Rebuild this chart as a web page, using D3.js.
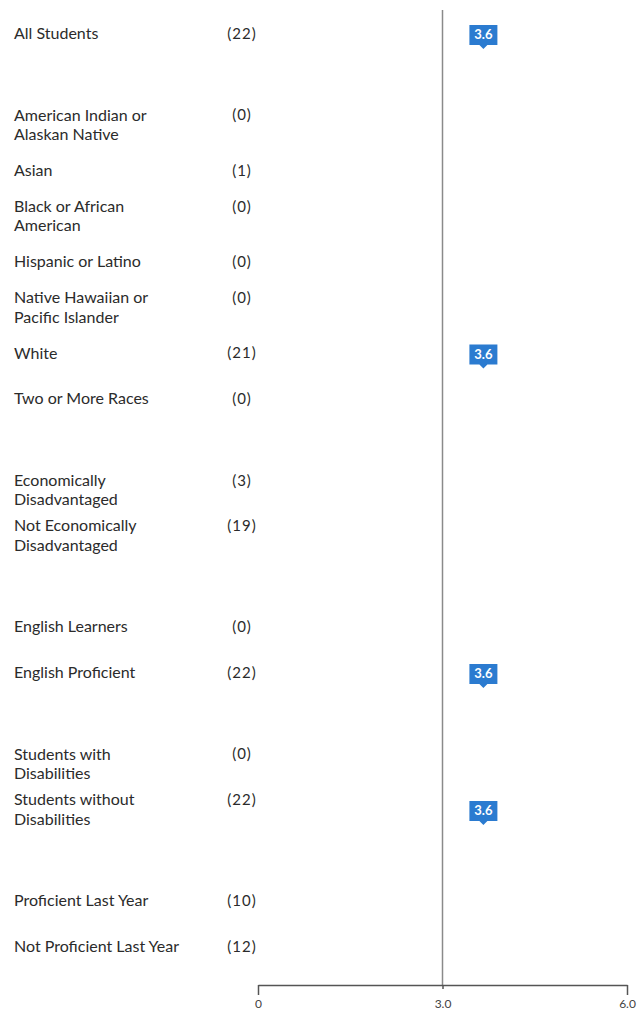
<!DOCTYPE html>
<html>
<head>
<meta charset="utf-8">
<script src="https://cdn.jsdelivr.net/npm/d3@7"></script>
<style>
  body { margin: 0; background: #fff; }
  svg { display: block; }
</style>
</head>
<body>
<svg id="chart" width="640" height="1012"></svg>
<script>
// groups by section, with student counts and mean scores (null = not shown)
var sections = [
  ["All Students"],
  ["American Indian or\nAlaskan Native", "Asian", "Black or African\nAmerican", "Hispanic or Latino",
   "Native Hawaiian or\nPacific Islander", "White", "Two or More Races"],
  ["Economically\nDisadvantaged", "Not Economically\nDisadvantaged"],
  ["English Learners", "English Proficient"],
  ["Students with\nDisabilities", "Students without\nDisabilities"],
  ["Proficient Last Year", "Not Proficient Last Year"]
];
var counts = [22, 0, 1, 0, 0, 0, 21, 0, 3, 19, 0, 22, 0, 22, 10, 12];
var scores = [3.6, null, null, null, null, null, 3.6, null, null, null, null, 3.6, null, 3.6, null, null];
var ticks = [0, 3.0, 6.0];
var refValue = 3.0;

var svg = d3.select("svg#chart");

// flatten groups, with a blank spacer slot between sections
var groups = [];
var domain = [];
sections.forEach(function(s, i) {
  if (i > 0) domain.push("gap" + i);
  s.forEach(function(g) { groups.push(g); domain.push(g); });
});

var rows = groups.map(function(g, i) {
  return { name: g, lines: g.split("\n"), n: counts[i], v: scores[i] };
});

var y = d3.scalePoint().domain(domain).range([35, 948]);
var x = d3.scaleLinear().domain([0, 6]).range([258, 627]);

var lineH = 19.5;
function firstLine(d) { return y(d.name) - (d.lines.length - 1) * lineH / 2; }

// group labels
var label = svg.selectAll("text.groupLabel")
  .data(rows)
  .enter().append("text")
  .attr("class", "groupLabel")
  .attr("x", 14)
  .attr("y", firstLine)
  .attr("dominant-baseline", "middle")
  .attr("font-family", "Lato, 'Open Sans', sans-serif")
  .attr("font-size", 16)
  .attr("fill", "#2b2b2b");

label.selectAll("tspan")
  .data(d => d.lines)
  .enter().append("tspan")
  .attr("x", 14)
  .attr("dy", (d, i) => i === 0 ? 0 : lineH)
  .text(d => d);

// counts
svg.selectAll("text.countLabel")
  .data(rows)
  .enter().append("text")
  .attr("class", "countLabel")
  .attr("x", 242)
  .attr("y", firstLine)
  .attr("dominant-baseline", "middle")
  .attr("text-anchor", "middle")
  .attr("font-family", "Lato, 'Open Sans', sans-serif")
  .attr("font-size", 15)
  .attr("letter-spacing", 1)
  .attr("fill", "#2b2b2b")
  .text(d => "(" + d.n + ")");

// reference line at 3.0
var axisY = 985;
svg.append("line")
  .attr("x1", x(refValue))
  .attr("x2", x(refValue))
  .attr("y1", 10)
  .attr("y2", axisY)
  .attr("stroke", "#8a8a8a")
  .attr("stroke-width", 1.5);

// axis
var axis = d3.axisBottom(x)
  .tickValues(ticks)
  .tickFormat(d => d === 0 ? "0" : d3.format(".1f")(d))
  .tickSizeInner(10)
  .tickSizeOuter(0);

var ax = svg.append("g")
  .attr("transform", "translate(0," + axisY + ")")
  .call(axis);

ax.select(".domain").attr("stroke", "#555").attr("stroke-width", 1.5);
ax.selectAll(".tick line").attr("stroke", "#555").attr("stroke-width", 1.5);
ax.selectAll(".tick").filter(d => d === refValue).select("line").attr("y2", 4);
ax.selectAll(".tick text")
  .attr("y", 14)
  .attr("font-family", "Lato, 'Open Sans', sans-serif")
  .attr("font-size", 12)
  .attr("fill", "#444");

// score markers
var boxW = 28, boxH = 20;
var marks = svg.selectAll("g.marker")
  .data(rows.filter(d => d.v != null))
  .enter().append("g")
  .attr("class", "marker")
  .attr("transform", d => "translate(" + (x(d.v) + 4) + "," + y(d.name) + ")");

marks.append("path")
  .attr("d", "M" + (-boxW / 2) + "," + (-boxH / 2) +
    "H" + (boxW / 2) + "V" + (boxH / 2) +
    "H4L0," + (boxH / 2 + 4) + "L-4," + (boxH / 2) +
    "H" + (-boxW / 2) + "Z")
  .attr("fill", "#2b7bd0");

marks.append("text")
  .attr("y", 1)
  .attr("dominant-baseline", "middle")
  .attr("text-anchor", "middle")
  .attr("font-family", "Lato, 'Open Sans', sans-serif")
  .attr("font-weight", "bold")
  .attr("font-size", 13)
  .attr("fill", "#fff")
  .text(d => d.v.toFixed(1));
</script>
</body>
</html>
